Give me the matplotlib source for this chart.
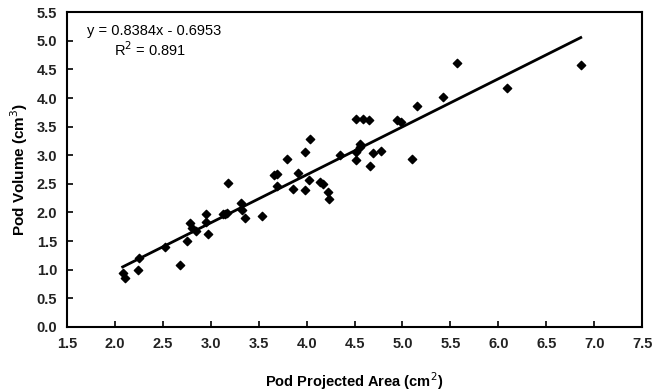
import numpy as np
import matplotlib
matplotlib.use("Agg")
from matplotlib import pyplot as plt

plt.rcParams['font.family'] = ['Liberation Sans', 'DejaVu Sans']

# pod projected area (cm2) vs pod volume (cm3)
area = [2.08, 2.10, 2.24, 2.25, 2.52, 2.68, 2.75, 2.78, 2.80, 2.85,
        2.95, 2.95, 2.97, 3.13, 3.15, 3.17, 3.18, 3.32, 3.33, 3.36,
        3.53, 3.66, 3.69, 3.69, 3.79, 3.86, 3.91, 3.98, 3.98, 4.02,
        4.04, 4.14, 4.17, 4.22, 4.23, 4.35, 4.52, 4.52, 4.52, 4.56,
        4.56, 4.59, 4.65, 4.66, 4.69, 4.78, 4.94, 4.98, 5.10, 5.15,
        5.42, 5.57, 6.09, 6.86]
volume = [0.94, 0.85, 0.99, 1.20, 1.40, 1.09, 1.50, 1.81, 1.72, 1.68,
          1.98, 1.84, 1.62, 1.97, 1.97, 1.99, 2.52, 2.17, 2.05, 1.90,
          1.94, 2.66, 2.68, 2.46, 2.93, 2.41, 2.69, 2.40, 3.06, 2.57,
          3.28, 2.54, 2.50, 2.36, 2.23, 3.01, 3.64, 3.06, 2.91, 3.19,
          3.15, 3.63, 3.61, 2.82, 3.04, 3.07, 3.61, 3.58, 2.94, 3.86,
          4.01, 4.61, 4.17, 4.58]

slope = 0.8384
intercept = -0.6953
r2 = 0.891

x_ticks = np.arange(1.5, 7.51, 0.5)
y_ticks = np.arange(0.0, 5.51, 0.5)

fig = plt.figure(figsize=(6.64, 3.92), dpi=100)
ax = fig.add_axes([0.101, 0.166, 0.866, 0.803])

ax.scatter(area, volume, marker='D', s=18, color='black', zorder=3)

xl = np.array([min(area), max(area)])
ax.plot(xl, slope * xl + intercept, color='black', lw=2, zorder=2)

ax.set_xlim(1.5, 7.5)
ax.set_ylim(0.0, 5.5)
ax.set_xticks(x_ticks)
ax.set_yticks(y_ticks)
ax.set_xticklabels(['%.1f' % v for v in x_ticks])
ax.set_yticklabels(['%.1f' % v for v in y_ticks])
ax.tick_params(direction='in', length=4, width=1.2, labelsize=10.5, pad=7)
for lab in ax.get_xticklabels() + ax.get_yticklabels():
    lab.set_fontweight('bold')
    lab.set_color('#222222')
for sp in ax.spines.values():
    sp.set_linewidth(1.5)

ax.set_xlabel('Pod Projected Area (cm$^2$)', fontsize=10.5, fontweight='bold', labelpad=14)
ax.set_ylabel('Pod Volume (cm$^3$)', fontsize=11, fontweight='bold', labelpad=5)

ax.text(0.035, 0.94, 'y = 0.8384x - 0.6953', transform=ax.transAxes, fontsize=10.5,
        ha='left', va='center')
ax.text(0.145, 0.88, 'R$^2$ = %.3f' % r2, transform=ax.transAxes, fontsize=10.5,
        ha='center', va='center')

fig.savefig('out.png', dpi=100)
